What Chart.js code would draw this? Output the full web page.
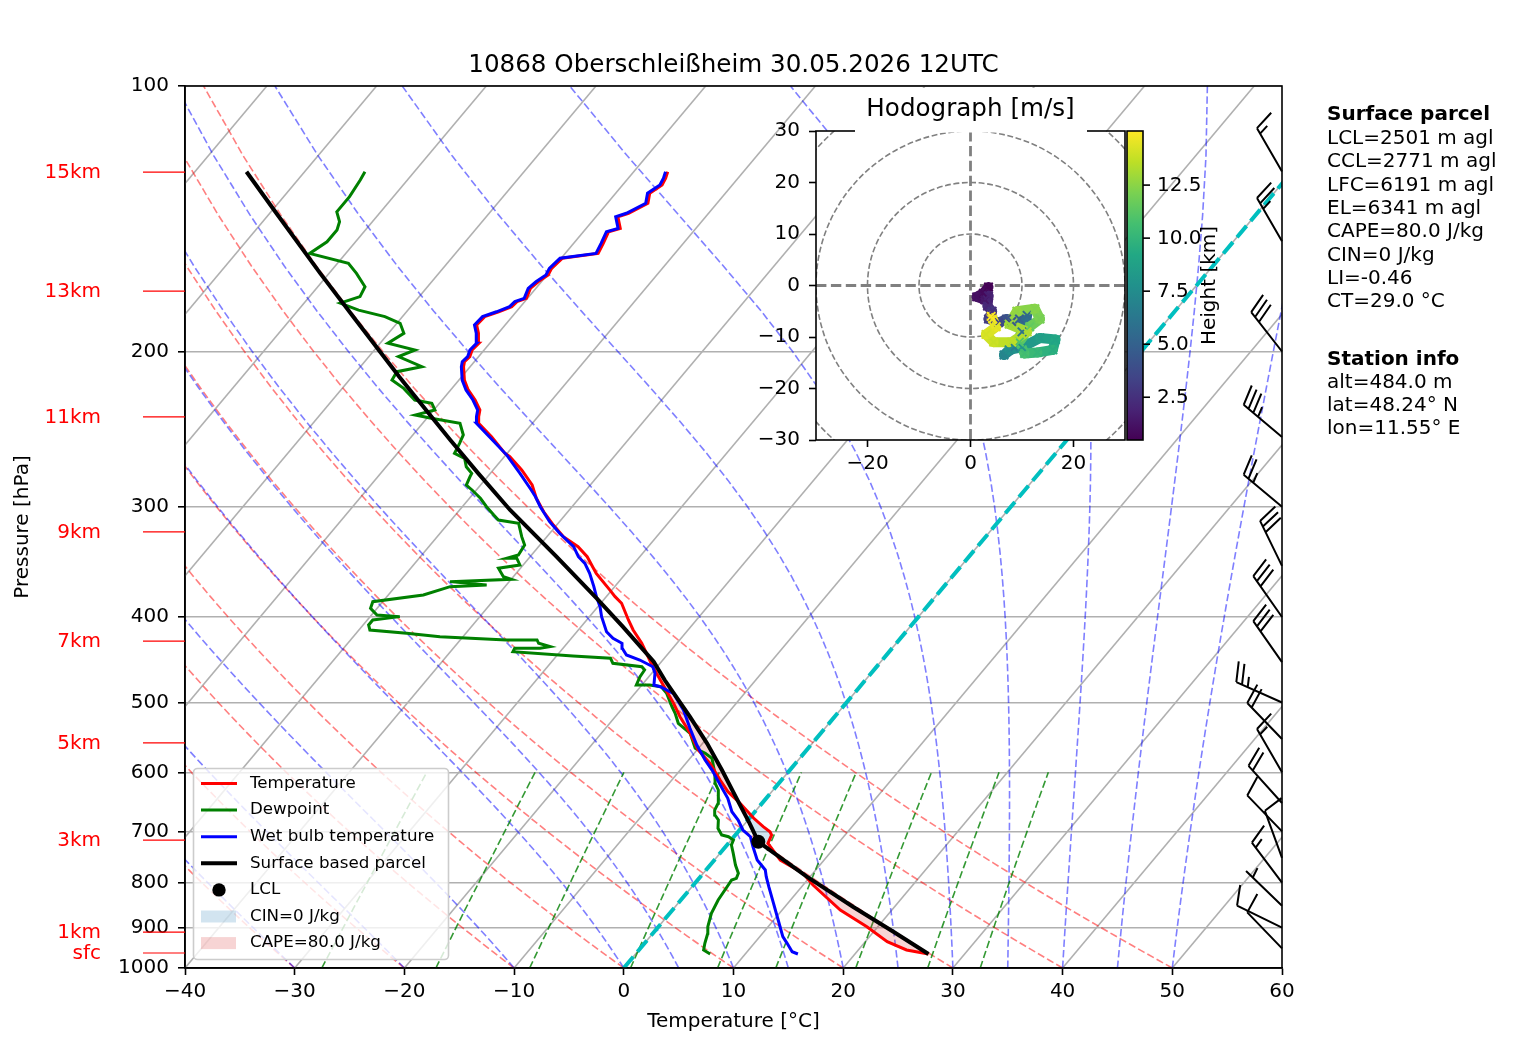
<!DOCTYPE html>
<html>
<head>
<meta charset="utf-8">
<title>Skew-T 10868 Oberschleißheim</title>
<script src="https://cdn.jsdelivr.net/npm/chart.js@4.4.1/dist/chart.umd.min.js"></script>
<style>
  html, body { margin: 0; padding: 0; background: #fff; }
  #wrap { position: relative; width: 1517px; height: 1054px; }
  #wrap canvas { position: absolute; }
  #skew { left: 0; top: 0; width: 1517px; height: 1054px; }
  #hodo { left: 740px; top: 88px; width: 520px; height: 400px; }
</style>
</head>
<body>
<div id="wrap">
  <canvas id="skew" width="1517" height="1054"></canvas>
  <canvas id="hodo" width="520" height="400"></canvas>
</div>
<script>
// --- sounding values ---

const titleText = '10868 Oberschleißheim 30.05.2026 12UTC';

const pressureTicks = [100, 200, 300, 400, 500, 600, 700, 800, 900, 1000];
const tempTicks = [-40, -30, -20, -10, 0, 10, 20, 30, 40, 50, 60];

// temperature (hPa / °C)
const tempP = [964.1, 954.1, 933.6, 897.8, 859.5, 805.2, 781.0, 754.3, 722.1, 706.7,
  700.6, 691.5, 676.5, 650.5, 631.1, 612.1, 586.0, 566.0, 541.9, 518.9,
  501.1, 471.5, 455.4, 428.4, 413.8, 403.1, 385.9, 379.3, 372.7, 356.9,
  341.7, 332.9, 324.3, 314.6, 303.9, 293.4, 283.4, 272.5, 263.2, 260.9,
  249.8, 241.2, 237.1, 233.0, 227.0, 221.1, 215.5, 208.1, 205.4, 202.7,
  199.2, 195.7, 190.7, 186.6, 182.6, 180.3, 177.9, 175.6, 174.1, 169.6,
  166.7, 163.8, 161.0, 156.8, 154.8, 150.8, 146.3, 145.0, 140.7, 139.4,
  135.8, 132.3, 129.5, 127.2, 125.1];
const tempT = [26.7, 24.4, 22.0, 19.0, 15.3, 10.9, 9.1, 6.0, 3.6, 3.3,
  2.9, 1.9, 0.4, -2.0, -4.0, -5.6, -7.8, -9.9, -11.9, -14.1,
  -15.7, -18.7, -20.4, -23.2, -25.0, -26.2, -28.1, -29.2, -30.2, -32.7,
  -34.8, -36.4, -38.5, -40.3, -42.2, -43.9, -45.3, -47.4, -49.5, -50.2,
  -52.7, -54.9, -55.4, -55.8, -57.0, -58.4, -59.5, -60.6, -60.9, -60.8,
  -61.1, -61.0, -61.8, -62.6, -62.5, -61.6, -60.8, -60.7, -60.1, -60.5,
  -60.3, -59.9, -60.1, -59.9, -57.0, -57.3, -57.7, -56.9, -58.0, -57.3,
  -56.3, -56.9, -56.4, -56.6, -56.9];

// wet bulb temperature
const wetP = [964.1, 958.3, 937.6, 921.5, 882.2, 844.6, 808.8, 787.9, 774.2, 754.3,
  728.6, 709.8, 697.5, 679.5, 665.0, 642.1, 620.2, 596.4, 581.0, 558.7,
  534.9, 509.9, 488.2, 479.8, 477.7, 463.3, 455.4, 447.5, 441.7, 434.0,
  428.4, 422.9, 415.6, 399.6, 389.4, 379.3, 369.5, 356.9, 347.7, 341.7,
  332.9, 321.5, 311.9, 299.9, 292.2, 287.1, 274.9, 262.1,
  249.8, 241.2, 237.1, 233.0, 227.0, 221.1, 215.5, 208.1, 205.4, 202.7,
  199.2, 195.7, 190.7, 186.6, 182.6, 180.3, 177.9, 175.6, 174.1, 169.6,
  166.7, 163.8, 161.0, 156.8, 154.8, 150.8, 146.3, 145.0, 140.7, 139.4,
  135.8, 132.3, 129.5, 127.2, 125.1];
const wetT = [14.8, 14.1, 13.0, 12.1, 10.4, 8.7, 7.0, 6.0, 5.4, 3.9,
  2.5, 1.5, 0.3, -0.9, -2.1, -3.5, -5.2, -7.1, -8.5, -10.4,
  -12.3, -14.3, -16.5, -18.2, -18.9, -19.7, -20.4, -22.1, -23.7, -24.6,
  -25.0, -26.2, -27.3, -28.9, -29.8, -30.9, -31.9, -33.3, -34.5, -35.6,
  -36.8, -39.1, -40.9, -42.9, -44.1, -45.0, -47.3, -49.9,
  -52.9, -55.1, -55.6, -56.0, -57.2, -58.6, -59.7, -60.8, -61.1, -61.0,
  -61.3, -61.2, -62.0, -62.8, -62.7, -61.8, -61.0, -60.9, -60.3, -60.7,
  -60.5, -60.1, -60.3, -60.1, -57.2, -57.5, -57.9, -57.1, -58.2, -57.5,
  -56.5, -57.1, -56.6, -56.8, -57.1];

// dewpoint
const dewP = [964.1, 954.1, 937.6, 913.4, 897.8, 866.9, 837.3, 808.8, 794.8, 791.2,
  781.0, 764.2, 741.2, 725.3, 715.9, 709.8, 706.7, 694.4, 679.5, 670.7,
  662.0, 650.5, 628.3, 617.4, 601.5, 578.4, 570.9, 563.5, 541.9, 527.9,
  514.3, 505.5, 488.2, 479.8, 477.7, 477.7, 467.5, 459.3, 455.4, 451.4,
  445.5, 442.9, 437.9, 434.0, 434.0, 432.2, 428.4, 424.7, 424.7, 421.1,
  417.4, 413.8, 408.4, 403.1, 399.6, 397.9, 391.0, 384.3, 377.7, 369.5,
  367.9, 364.7, 362.5, 360.1, 352.2, 349.2, 343.1, 343.1, 340.2, 331.4,
  324.3, 313.2, 310.5, 306.5, 299.9, 293.4, 287.1, 283.4, 277.3, 274.9,
  270.2, 264.3, 260.9, 254.2, 248.7, 241.2, 238.1, 236.1, 233.0, 228.9,
  227.0, 220.2, 215.5, 210.8, 208.1, 202.7, 199.2, 195.7, 190.7, 185.8,
  182.6, 179.5, 176.3, 173.3, 168.9, 163.1, 158.9, 154.8, 150.2, 145.6,
  142.5, 138.9, 133.5, 127.8, 125.1];
const dewT = [6.8, 5.9, 5.5, 5.0, 4.5, 3.8, 3.4, 3.2, 3.1, 3.4,
  3.2, 2.3, 1.2, 0.4, 0.2, -0.5, -1.25, -2.1, -2.7, -3.4,
  -3.8, -4.0, -5.0, -5.8, -6.6, -8.0, -9.0, -10.3, -11.9, -13.75,
  -14.8, -15.6, -17.1, -18.1, -19.3, -20.5, -20.8, -20.9, -21.4, -24.3,
  -24.9, -28.5, -34.3, -34.4, -32.1, -31.3, -32.6, -33.0, -35.8, -42.1,
  -45.4, -49.0, -49.5, -49.5, -47.3, -49.5, -50.6, -50.9, -46.8, -45.0,
  -41.8, -45.4, -40.0, -40.9, -42.0, -40.3, -41.1, -42.0, -41.2, -41.4,
  -42.3, -43.6, -45.7, -46.5, -47.8, -49.0, -50.4, -51.3, -51.6, -51.7,
  -52.7, -53.5, -54.8, -55.1, -55.4, -56.6, -59.6, -61.3, -59.9, -60.7,
  -62.5, -64.4, -66.1, -66.3, -64.4, -67.3, -66.3, -69.3, -68.6, -69.7,
  -71.6, -74.5, -76.7, -75.4, -75.7, -77.5, -79.0, -83.3, -82.6, -82.6,
  -83.0, -84.0, -84.0, -84.3, -84.5];

// surface based parcel
const parcelP = [964.1, 909.6, 852.1, 787.9, 728.6, 719.1, 685.4, 642.1, 596.4, 556.2,
  518.9, 471.5, 449.5, 410.2, 380.9, 341.7, 302.5, 274.9, 252.0, 237.1,
  213.6, 184.2, 163.1, 139.4, 125.1];
const parcelT = [26.7, 21.8, 16.2, 9.7, 3.6, 2.6, 0.4, -2.7, -6.2, -9.6,
  -13.2, -18.3, -20.7, -26.2, -30.75, -37.6, -45.4, -51.1, -56.2, -59.7,
  -65.7, -74.0, -80.8, -89.4, -95.3];
const lclP = 719.1;
const lclT = 2.6;

// layers shaded as positive / negative area (bottom hPa, top hPa)
const capeLayers = [[964.1, 722], [668, 445]];
const cinLayers = [[722, 668]];

// wind barbs (knots, direction wind blows from)
const windP   = [125, 150, 200, 250, 300, 350, 400, 450, 500, 550, 600, 650, 700, 750, 800, 850, 900, 950];
const windDir = [330, 330, 322, 310, 310, 334, 325, 325, 294, 316, 330, 318, 316, 340, 323, 314, 296, 316];
const windKt  = [15, 25, 30, 35, 25, 30, 30, 30, 25, 20, 15, 20, 10, 10, 15, 5, 10, 10];

// height markers on the left
const kmLabels = ['15km', '13km', '11km', '9km', '7km', '5km', '3km', '1km', 'sfc'];
const kmP = [125.2, 170.8, 237.2, 320.3, 426.0, 555.6, 716.0, 910.4, 961.6];

const parcelHead = 'Surface parcel';
const parcelInfo = ['LCL=2501 m agl', 'CCL=2771 m agl', 'LFC=6191 m agl', 'EL=6341 m agl',
  'CAPE=80.0 J/kg', 'CIN=0 J/kg', 'LI=-0.46', 'CT=29.0 °C'];
const stationHead = 'Station info';
const stationInfo = ['alt=484.0 m', 'lat=48.24° N', 'lon=11.55° E'];

const legendLabels = ['Temperature', 'Dewpoint', 'Wet bulb temperature', 'Surface based parcel',
  'LCL', 'CIN=0 J/kg', 'CAPE=80.0 J/kg'];

// hodograph (height km, u / v m/s)
const hodoH = [0.484, 0.8, 1.0, 1.3, 1.7, 2.0, 2.5, 3.0, 3.5, 4.0, 4.5, 5.0, 5.5, 6.0, 6.5, 7.0,
  7.5, 8.0, 8.5, 9.0, 9.5, 10.0, 10.5, 11.0, 11.5, 12.0, 12.3, 12.6, 12.9, 13.2, 13.5,
  13.8, 14.1, 14.4, 14.7, 15.05];
const hodoU = [3.5, 2.5, 1.2, 2.8, 3.5, 3.3, 4.2, 3.5, 5.5, 7.0, 8.0, 9.5, 11.0, 10.0, 8.5, 6.5,
  7.5, 10.0, 13.5, 16.5, 16.0, 13.0, 10.5, 9.5, 11.5, 13.5, 12.5, 9.0, 7.5, 11.0, 8.0,
  4.5, 3.0, 5.0, 4.3, 4.0];
const hodoV = [-0.3, -1.5, -2.2, -2.8, -2.0, -4.0, -5.0, -6.5, -7.2, -6.5, -7.0, -6.5, -5.8, -9.0, -12.0, -13.5,
  -12.5, -12.0, -10.2, -10.5, -12.5, -13.0, -13.2, -11.0, -8.0, -6.5, -4.5, -5.0, -7.5, -9.0, -11.0,
  -11.0, -9.5, -8.0, -6.5, -6.0];
const hodoRings = [10, 20, 30, 40];
const hodoTicksX = [-20, 0, 20];
const hodoTicksY = [-30, -20, -10, 0, 10, 20, 30];
const cbTicks = [2.5, 5.0, 7.5, 10.0, 12.5];

// background line families
const isoT = [-120, -110, -100, -90, -80, -70, -60, -50, -40, -30, -20, -10, 0, 10, 20, 30, 40, 50, 60];
const dryT0 = [-40, -30, -20, -10, 0, 10, 20, 30, 40, 50];
const moistT0 = [-40, -30, -20, -10, 0, 5, 10, 15, 20, 25, 30, 35, 40, 45, 50];
const mixW = [0.0004, 0.001, 0.002, 0.004, 0.007, 0.01, 0.016, 0.024, 0.032];

// --- helpers ---

Chart.defaults.font.family = "'DejaVu Sans', 'Liberation Sans', sans-serif";
Chart.defaults.font.size = 20;
Chart.defaults.color = '#000';

const FONT = "'DejaVu Sans', sans-serif";
const minus = v => String(v).replace('-', '\u2212');

// 40 degree skew on an 1097 x 882 px plot area, in °C per decade of pressure
const SKEW = Math.tan(40 * Math.PI / 180) * 882 / 1097 * 100;
const skewX = (t, p) => t + SKEW * Math.log10(1000 / p);
const toXY = (P, T) => P.map((p, i) => ({ x: skewX(T[i], p), y: p }));

function lineDs(data, color, width, dash, order) {
  return { data, showLine: true, borderColor: color, borderWidth: width, borderDash: dash || [],
    pointRadius: 0, fill: false, tension: 0, order };
}

function moistAdiabat(t0) {
  const Rd = 287.04, Cp = 1005.7, Lv = 2.501e6, eps = 0.622;
  const es = T => 6.112 * Math.exp(17.67 * (T - 273.15) / (T - 29.65));
  const slope = (p, T) => {
    const e = es(T), rs = eps * e / (p - e);
    return (Rd * T + Lv * rs) / (Cp + Lv * Lv * rs * eps / (Rd * T * T)) / p;
  };
  let T = t0 + 273.15, p = 1000;
  const dp = -5;
  const out = [{ x: skewX(t0, 1000), y: 1000 }];
  while (p > 100.1) {
    const k1 = slope(p, T);
    const k2 = slope(p + dp / 2, T + dp / 2 * k1);
    const k3 = slope(p + dp / 2, T + dp / 2 * k2);
    const k4 = slope(p + dp, T + dp * k3);
    T += dp / 6 * (k1 + 2 * k2 + 2 * k3 + k4);
    p += dp;
    if (Math.round(p) % 20 === 0) out.push({ x: skewX(T - 273.15, p), y: p });
  }
  return out;
}

function interpAt(P, T, p) {
  for (let i = 0; i < P.length - 1; i++) {
    if ((P[i] - p) * (P[i + 1] - p) <= 0) {
      const f = Math.log(p / P[i]) / Math.log(P[i + 1] / P[i]);
      return T[i] + f * (T[i + 1] - T[i]);
    }
  }
  return T[T.length - 1];
}

function layerPts(P, T, pBot, pTop) {
  const out = [{ p: pBot, t: interpAt(P, T, pBot) }];
  P.forEach((p, i) => { if (p < pBot && p > pTop) out.push({ p, t: T[i] }); });
  out.push({ p: pTop, t: interpAt(P, T, pTop) });
  return out;
}

function shadePolygon(pBot, pTop) {
  const up = layerPts(parcelP, parcelT, pBot, pTop);
  const down = layerPts(tempP, tempT, pBot, pTop).reverse();
  return up.concat(down).map(q => ({ x: skewX(q.t, q.p), y: q.p }));
}

const viridisStops = ['#440154', '#482475', '#414487', '#355f8d', '#2a788e', '#21918c',
  '#22a884', '#44bf70', '#7ad151', '#bddf26', '#fde725'];
function viridis(f) {
  f = Math.max(0, Math.min(1, f));
  const s = f * 10, i = Math.min(9, Math.floor(s)), r = s - i;
  const a = viridisStops[i], b = viridisStops[i + 1];
  const ch = (h, k) => parseInt(h.substr(1 + 2 * k, 2), 16);
  const c = [0, 1, 2].map(k => Math.round(ch(a, k) + r * (ch(b, k) - ch(a, k))));
  return `rgb(${c[0]},${c[1]},${c[2]})`;
}
const hMin = Math.min(...hodoH), hMax = Math.max(...hodoH);
const hNorm = h => (h - hMin) / (hMax - hMin);

function drawBarb(ctx, x0, y0, dir, spd) {
  const L = 50, fh = 0.4 * L, fw = 0.25 * L, sp = 0.125 * L;
  const a = dir * Math.PI / 180;
  const dx = Math.sin(a), dy = -Math.cos(a);
  const nx = -dy, ny = dx;
  const at = (s, h) => [x0 + s * dx + h * nx, y0 + s * dy + h * ny];
  const flags = Math.floor(spd / 50);
  const full = Math.floor((spd % 50) / 10);
  const half = (spd % 10) >= 5;
  ctx.beginPath();
  ctx.moveTo(x0, y0);
  ctx.lineTo(...at(L, 0));
  let off = L;
  for (let i = 0; i < flags; i++) {
    ctx.moveTo(...at(off, 0));
    ctx.lineTo(...at(off - fw / 2, fh));
    ctx.lineTo(...at(off - fw, 0));
    off -= fw + sp;
  }
  for (let i = 0; i < full; i++) {
    ctx.moveTo(...at(off, 0));
    ctx.lineTo(...at(off + fw / 2, fh));
    off -= sp;
  }
  if (half) {
    if (off === L) off -= 1.5 * sp;
    ctx.moveTo(...at(off, 0));
    ctx.lineTo(...at(off + fw / 4, fh / 2));
  }
  ctx.stroke();
}

function roundRectPath(ctx, x, y, w, h, r) {
  ctx.beginPath();
  ctx.moveTo(x + r, y);
  ctx.arcTo(x + w, y, x + w, y + h, r);
  ctx.arcTo(x + w, y + h, x, y + h, r);
  ctx.arcTo(x, y + h, x, y, r);
  ctx.arcTo(x, y, x + w, y, r);
  ctx.closePath();
}

function drawLegend(ctx) {
  const x0 = 193.5, y0 = 768.5, w = 255, h = 191;
  ctx.save();
  roundRectPath(ctx, x0, y0, w, h, 4);
  ctx.fillStyle = 'rgba(255,255,255,0.8)';
  ctx.fill();
  ctx.strokeStyle = '#cccccc';
  ctx.lineWidth = 1.6;
  ctx.stroke();
  const rowY = i => 783.5 + i * 26.6;
  const lines = [['#ff0000', 3], ['#008000', 3], ['#0000ff', 3], ['#000000', 4]];
  lines.forEach(([c, lw], i) => {
    ctx.strokeStyle = c; ctx.lineWidth = lw;
    ctx.beginPath(); ctx.moveTo(201, rowY(i)); ctx.lineTo(237, rowY(i)); ctx.stroke();
  });
  ctx.fillStyle = '#000';
  ctx.beginPath(); ctx.arc(219, rowY(4), 6.7, 0, 2 * Math.PI); ctx.fill();
  ctx.fillStyle = 'rgba(31,119,180,0.2)';
  ctx.fillRect(201, rowY(5) - 6, 35, 12);
  ctx.fillStyle = 'rgba(214,39,40,0.2)';
  ctx.fillRect(201, rowY(6) - 6, 35, 12);
  ctx.fillStyle = '#000';
  ctx.font = `16.7px ${FONT}`;
  ctx.textAlign = 'left';
  ctx.textBaseline = 'middle';
  legendLabels.forEach((t, i) => ctx.fillText(t, 250, rowY(i)));
  ctx.restore();
}

const skewDecor = {
  id: 'skewDecor',
  afterDraw(chart) {
    const { ctx, chartArea: a } = chart;
    const y = chart.scales.y;
    ctx.save();
    // spines
    ctx.strokeStyle = '#000';
    ctx.lineWidth = 1.6;
    ctx.strokeRect(a.left, a.top, a.right - a.left, a.bottom - a.top);
    // wind barbs on the right spine
    ctx.lineWidth = 2;
    ctx.lineJoin = 'miter';
    windP.forEach((p, i) => drawBarb(ctx, a.right, y.getPixelForValue(p), windDir[i], windKt[i]));
    // height markers
    ctx.strokeStyle = '#ff0000';
    ctx.fillStyle = '#ff0000';
    ctx.lineWidth = 1.2;
    ctx.font = `20px ${FONT}`;
    ctx.textAlign = 'right';
    ctx.textBaseline = 'middle';
    kmP.forEach((p, i) => {
      const yy = y.getPixelForValue(p);
      ctx.beginPath(); ctx.moveTo(a.left - 42, yy); ctx.lineTo(a.left, yy); ctx.stroke();
      ctx.fillText(kmLabels[i], a.left - 84, yy + 1);
    });
    // title
    ctx.fillStyle = '#000';
    ctx.textAlign = 'center';
    ctx.font = `24.6px ${FONT}`;
    ctx.fillText(titleText, (a.left + a.right) / 2, 66);
    // parcel / station info
    ctx.textAlign = 'left';
    ctx.font = `bold 20px ${FONT}`;
    ctx.fillText(parcelHead, 1327, 115);
    ctx.fillText(stationHead, 1327, 360);
    ctx.font = `20px ${FONT}`;
    parcelInfo.forEach((t, i) => ctx.fillText(t, 1327, 138.8 + i * 23.3));
    stationInfo.forEach((t, i) => ctx.fillText(t, 1327, 383 + i * 23));
    ctx.restore();
    drawLegend(ctx);
  }
};

// --- Skew-T datasets ---

const datasets = [];
isoT.forEach(t => datasets.push(lineDs(
  [{ x: skewX(t, 1000), y: 1000 }, { x: skewX(t, 100), y: 100 }], '#b0b0b0', 1.6, null, 50)));
dryT0.forEach(t0 => {
  const pts = [];
  for (let p = 1000; p >= 100; p -= 20) {
    pts.push({ x: skewX((t0 + 273.15) * Math.pow(p / 1000, 0.2857) - 273.15, p), y: p });
  }
  datasets.push(lineDs(pts, 'rgba(255,0,0,0.5)', 1.6, [7.4, 3.2], 49));
});
moistT0.forEach(t0 => datasets.push(lineDs(moistAdiabat(t0), 'rgba(0,0,255,0.5)', 1.6, [7.4, 3.2], 48)));
mixW.forEach(w => {
  const pts = [];
  for (let p = 1000; p >= 600; p -= 10) {
    const l = Math.log(p * w / (0.622 + w) / 6.112);
    pts.push({ x: skewX(243.5 * l / (17.67 - l), p), y: p });
  }
  datasets.push(lineDs(pts, 'rgba(0,128,0,0.8)', 1.6, [7.4, 3.2], 47));
});
datasets.push(lineDs([{ x: skewX(0, 1000), y: 1000 }, { x: skewX(0, 100), y: 100 }],
  '#00bfbf', 4, [14.8, 6.4], 40));

capeLayers.forEach(([pb, pt]) => datasets.push(Object.assign(
  lineDs(shadePolygon(pb, pt), 'rgba(0,0,0,0)', 0, null, 30),
  { fill: 'shape', backgroundColor: 'rgba(214,39,40,0.2)' })));
cinLayers.forEach(([pb, pt]) => datasets.push(Object.assign(
  lineDs(shadePolygon(pb, pt), 'rgba(0,0,0,0)', 0, null, 30),
  { fill: 'shape', backgroundColor: 'rgba(31,119,180,0.2)' })));

datasets.push(lineDs(toXY(dewP, dewT), '#008000', 3, null, 5));
datasets.push(lineDs(toXY(tempP, tempT), '#ff0000', 3, null, 4));
datasets.push(lineDs(toXY(wetP, wetT), '#0000ff', 3, null, 3));
datasets.push(lineDs(toXY(parcelP, parcelT), '#000000', 4, null, 2));
datasets.push({ data: [{ x: skewX(lclT, lclP), y: lclP }], showLine: false, pointRadius: 7,
  pointBackgroundColor: '#000', pointBorderWidth: 0, order: 1 });

new Chart(document.getElementById('skew'), {
  type: 'scatter',
  data: { datasets },
  options: {
    responsive: false,
    animation: false,
    devicePixelRatio: 1,
    events: [],
    layout: { padding: { left: 0, right: 235, top: 86, bottom: 0 } },
    plugins: { legend: { display: false }, tooltip: { enabled: false } },
    scales: {
      x: {
        type: 'linear', min: -40, max: 60,
        afterBuildTicks: s => { s.ticks = tempTicks.map(v => ({ value: v })); },
        afterFit: s => { s.height = 86; },
        grid: { drawOnChartArea: false, tickLength: 7, tickWidth: 1.6, tickColor: '#000' },
        border: { color: '#000', width: 1.6 },
        ticks: { padding: 5, maxRotation: 0, autoSkip: false, callback: v => minus(v) },
        title: { display: true, text: 'Temperature [°C]', font: { size: 20 }, padding: { top: 0, bottom: 20 } }
      },
      y: {
        type: 'logarithmic', reverse: true, min: 100, max: 1000,
        afterBuildTicks: s => { s.ticks = pressureTicks.map(v => ({ value: v })); },
        afterFit: s => { s.width = 185; },
        grid: { color: '#b0b0b0', lineWidth: 1.6, tickLength: 7, tickWidth: 1.6, tickColor: '#000' },
        border: { color: '#000', width: 1.6 },
        ticks: { padding: 9, autoSkip: false, callback: v => String(v) },
        title: { display: true, text: 'Pressure [hPa]', font: { size: 20 }, padding: { top: 11, bottom: 0 } }
      }
    }
  },
  plugins: [skewDecor]
});

// --- hodograph inset ---

const hodoDecor = {
  id: 'hodoDecor',
  beforeDraw(chart) {
    const { ctx, chartArea: a } = chart;
    ctx.save();
    ctx.fillStyle = '#fff';
    ctx.fillRect(a.left, a.top, a.right - a.left, a.bottom - a.top);
    ctx.restore();
  },
  beforeDatasetsDraw(chart) {
    const { ctx, chartArea: a } = chart;
    const xs = chart.scales.x, ys = chart.scales.y;
    const cx = xs.getPixelForValue(0), cy = ys.getPixelForValue(0);
    ctx.save();
    ctx.beginPath();
    ctx.rect(a.left, a.top, a.right - a.left, a.bottom - a.top);
    ctx.clip();
    ctx.strokeStyle = '#808080';
    ctx.lineWidth = 1.6;
    ctx.setLineDash([5.9, 2.6]);
    hodoRings.forEach(r => {
      ctx.beginPath();
      ctx.arc(cx, cy, xs.getPixelForValue(r) - cx, 0, 2 * Math.PI);
      ctx.stroke();
    });
    ctx.lineWidth = 2.8;
    ctx.setLineDash([10.4, 4.5]);
    ctx.beginPath();
    ctx.moveTo(a.left, cy); ctx.lineTo(a.right, cy);
    ctx.moveTo(cx, a.top); ctx.lineTo(cx, a.bottom);
    ctx.stroke();
    ctx.restore();
  },
  afterDraw(chart) {
    const { ctx, chartArea: a } = chart;
    ctx.save();
    ctx.strokeStyle = '#000';
    ctx.lineWidth = 1.6;
    ctx.strokeRect(a.left, a.top, a.right - a.left, a.bottom - a.top);
    // colour bar
    const cbL = a.right + 2, cbR = a.right + 18;
    const g = ctx.createLinearGradient(0, a.bottom, 0, a.top);
    viridisStops.forEach((c, k) => g.addColorStop(k / 10, c));
    ctx.fillStyle = g;
    ctx.fillRect(cbL, a.top, cbR - cbL, a.bottom - a.top);
    ctx.strokeRect(cbL, a.top, cbR - cbL, a.bottom - a.top);
    ctx.fillStyle = '#000';
    ctx.font = `20px ${FONT}`;
    ctx.textAlign = 'left';
    ctx.textBaseline = 'middle';
    cbTicks.forEach(v => {
      const yy = a.bottom - hNorm(v) * (a.bottom - a.top);
      ctx.beginPath(); ctx.moveTo(cbR, yy); ctx.lineTo(cbR + 7, yy); ctx.stroke();
      ctx.fillText(v.toFixed(1), cbR + 14, yy + 1);
    });
    ctx.save();
    ctx.translate(470, (a.top + a.bottom) / 2);
    ctx.rotate(-Math.PI / 2);
    ctx.textAlign = 'center';
    ctx.fillText('Height [km]', 0, 0);
    ctx.restore();
    // title on a white box
    ctx.fillStyle = '#fff';
    ctx.fillRect(115, 0, 232, a.top + 1.5);
    ctx.fillStyle = '#000';
    ctx.textAlign = 'center';
    ctx.font = `24.6px ${FONT}`;
    ctx.fillText('Hodograph [m/s]', (a.left + a.right) / 2, 22);
    ctx.restore();
  }
};

new Chart(document.getElementById('hodo'), {
  type: 'scatter',
  data: {
    datasets: [{
      data: hodoU.map((u, i) => ({ x: u, y: hodoV[i] })),
      showLine: true,
      borderWidth: 10,
      borderColor: viridis(0),
      borderJoinStyle: 'round',
      borderCapStyle: 'round',
      pointRadius: 6,
      pointStyle: 'crossRot',
      pointBorderWidth: 2,
      pointBorderColor: hodoH.map(h => viridis(hNorm(h))),
      segment: { borderColor: c => viridis(hNorm((hodoH[c.p0DataIndex] + hodoH[c.p1DataIndex]) / 2)) }
    }]
  },
  options: {
    responsive: false,
    animation: false,
    devicePixelRatio: 1,
    events: [],
    layout: { padding: { left: 0, right: 135, top: 43, bottom: 0 } },
    plugins: { legend: { display: false }, tooltip: { enabled: false } },
    scales: {
      x: {
        type: 'linear', min: -30, max: 30,
        afterBuildTicks: s => { s.ticks = hodoTicksX.map(v => ({ value: v })); },
        afterFit: s => { s.height = 48; },
        grid: { drawOnChartArea: false, tickLength: 7, tickWidth: 1.6, tickColor: '#000' },
        border: { display: false },
        ticks: { padding: 5, maxRotation: 0, autoSkip: false, callback: v => minus(v) }
      },
      y: {
        type: 'linear', min: -30, max: 30,
        afterBuildTicks: s => { s.ticks = hodoTicksY.map(v => ({ value: v })); },
        afterFit: s => { s.width = 76; },
        grid: { drawOnChartArea: false, tickLength: 7, tickWidth: 1.6, tickColor: '#000' },
        border: { display: false },
        ticks: { padding: 9, autoSkip: false, callback: v => minus(v) }
      }
    }
  },
  plugins: [hodoDecor]
});
</script>
</body>
</html>
